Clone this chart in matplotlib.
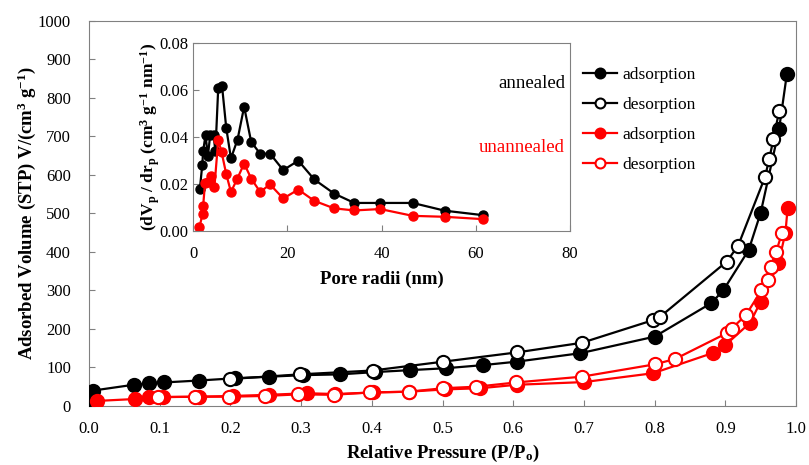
import matplotlib
matplotlib.use('Agg')
import matplotlib.pyplot as plt
from matplotlib.ticker import FormatStrFormatter

plt.rcParams['font.family'] = ['Liberation Serif', 'DejaVu Serif']
plt.rcParams['mathtext.default'] = 'regular'

# 等温线数据 (P/P0, V)
ann_ads_p = [0.0, 0.006, 0.063, 0.085, 0.106, 0.155, 0.207, 0.255, 0.303, 0.355, 0.405,
             0.454, 0.505, 0.557, 0.605, 0.695, 0.800, 0.880, 0.897, 0.933, 0.950,
             0.976, 0.987]
ann_ads_v = [17, 40, 55, 59, 61, 66, 72, 76, 80, 82, 88, 93, 98, 106, 115, 137, 180,
             267, 300, 405, 502, 719, 862]
ann_des_p = [0.200, 0.298, 0.401, 0.501, 0.605, 0.697, 0.798, 0.808, 0.902, 0.918,
             0.956, 0.962, 0.968, 0.976]
ann_des_v = [70, 82, 92, 115, 139, 164, 223, 232, 375, 416, 594, 641, 693, 765]

una_ads_p = [0.011, 0.065, 0.085, 0.105, 0.155, 0.204, 0.255, 0.308, 0.348, 0.402,
             0.452, 0.504, 0.553, 0.605, 0.700, 0.798, 0.883, 0.900, 0.935, 0.950,
             0.975, 0.985, 0.988]
una_ads_v = [13, 18, 22, 23, 24, 26, 29, 33, 31, 35, 37, 43, 46, 55, 62, 85, 138, 158,
             216, 271, 370, 450, 513]
una_des_p = [0.098, 0.150, 0.198, 0.249, 0.296, 0.346, 0.397, 0.452, 0.501, 0.548,
             0.604, 0.697, 0.800, 0.829, 0.902, 0.909, 0.929, 0.951, 0.961, 0.965,
             0.972, 0.980]
una_des_v = [23, 24, 24, 26, 30, 29, 35, 37, 46, 50, 61, 76, 108, 122, 189, 201, 236,
             300, 327, 362, 401, 449]

# 孔径分布数据 (nm, dVp/drp)
ann_r = [1.4, 1.9, 2.1, 2.6, 3.1, 3.6, 4.3, 4.7, 5.3, 6.1, 7.0, 8.0, 9.4, 10.8, 12.3,
         14.2, 16.3, 19.1, 22.3, 25.7, 29.9, 34.2, 39.7, 46.6, 53.4, 61.5]
ann_dv = [0.018, 0.028, 0.034, 0.041, 0.032, 0.041, 0.041, 0.034, 0.061, 0.062, 0.044,
          0.031, 0.039, 0.053, 0.038, 0.033, 0.033, 0.026, 0.030, 0.022, 0.016, 0.012,
          0.012, 0.012, 0.0087, 0.0068]
una_r = [1.3, 2.0, 2.1, 2.5, 3.1, 3.8, 4.5, 5.3, 6.0, 7.0, 8.0, 9.3, 10.8, 12.3, 14.2,
         16.3, 19.1, 22.3, 25.7, 29.9, 34.2, 39.7, 46.6, 53.4, 61.5]
una_dv = [0.0016, 0.0075, 0.0108, 0.0205, 0.021, 0.0235, 0.019, 0.0388, 0.0338, 0.0243,
          0.0167, 0.0221, 0.0288, 0.0224, 0.0167, 0.0199, 0.0139, 0.0177, 0.0129, 0.0097,
          0.0088, 0.0094, 0.0065, 0.0061, 0.0051]

RED = '#ff0000'
SPINE = '#808080'

fig = plt.figure(figsize=(8.09, 4.65), dpi=100)
ax = fig.add_axes([0.110, 0.127, 0.874, 0.828])

ms = 9.5
ax.plot(ann_ads_p, ann_ads_v, '-o', color='black', lw=1.6, ms=ms, mew=1.5,
        label='adsorption', zorder=3)
ax.plot(ann_des_p, ann_des_v, '-o', color='black', mfc='white', lw=1.6, ms=ms, mew=1.5,
        label='desorption', zorder=4)
ax.plot(una_ads_p, una_ads_v, '-o', color=RED, lw=1.6, ms=ms, mew=1.5,
        label='adsorption', zorder=3)
ax.plot(una_des_p, una_des_v, '-o', color=RED, mfc='white', lw=1.6, ms=ms, mew=1.5,
        label='desorption', zorder=4)

ax.set_xlim(0, 1.0)
ax.set_ylim(0, 1000)
ax.set_xticks([i / 10 for i in range(11)])
ax.set_yticks(range(0, 1001, 100))
ax.xaxis.set_major_formatter(FormatStrFormatter('%.1f'))
ax.tick_params(direction='in', labelsize=12, length=4, color=SPINE)
ax.tick_params(axis='x', pad=11)
ax.tick_params(axis='y', pad=13)
for s in ax.spines.values():
    s.set_color(SPINE)
ax.set_xlabel('Relative Pressure (P/P$_o$)', fontsize=13.5, fontweight='bold', labelpad=4)
ax.set_ylabel('Adsorbed Volume (STP) V/(cm$^3$ g$^{-1}$)', fontsize=13.5,
              fontweight='bold', labelpad=0)

ax.legend(loc='upper left', bbox_to_anchor=(0.676, 0.922), frameon=False, fontsize=12.5,
          handlelength=2.0, handletextpad=0.3, labelspacing=0.8, markerscale=0.75,
          borderpad=0.4)

# 插图: 孔径分布
ins = fig.add_axes([0.2389, 0.503, 0.4657, 0.4037])
ims = 6.5
ins.plot(ann_r, ann_dv, '-o', color='black', lw=1.6, ms=ims)
ins.plot(una_r, una_dv, '-o', color=RED, lw=1.6, ms=ims)
ins.set_xlim(0, 80)
ins.set_ylim(0, 0.08)
ins.set_xticks(range(0, 81, 20))
ins.set_yticks([0, 0.02, 0.04, 0.06, 0.08])
ins.yaxis.set_major_formatter(FormatStrFormatter('%.2f'))
ins.tick_params(direction='in', labelsize=12, length=4, color=SPINE)
ins.tick_params(axis='x', pad=11)
for s in ins.spines.values():
    s.set_color(SPINE)
ins.set_xlabel('Pore radii (nm)', fontsize=13.5, fontweight='bold', labelpad=6)
ins.set_ylabel('(dV$_p$ / dr$_p$ (cm$^3$ g$^{-1}$ nm$^{-1}$)', fontsize=12.5,
               fontweight='bold', labelpad=-2)

fig.text(565 / 809, 1 - 83 / 465, 'annealed', color='black', fontsize=13.5,
         ha='right', va='center')
fig.text(565 / 809, 1 - 147 / 465, 'unannealed', color=RED, fontsize=13.5,
         ha='right', va='center')

fig.savefig('out.png', dpi=100)
